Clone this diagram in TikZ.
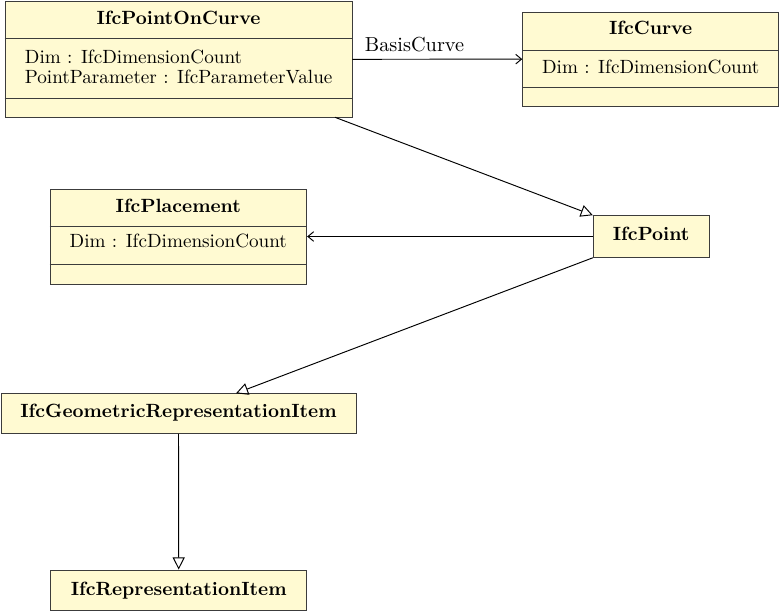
\documentclass[tikz,border=0pt]{standalone}
\usetikzlibrary{fit,arrows.meta}
\definecolor{clsfill}{RGB}{255,250,210}
\definecolor{clsdraw}{RGB}{60,60,60}
\begin{document}
\begin{tikzpicture}[x=0.522pt,y=-0.522pt,
  cls/.style={draw=clsdraw,fill=clsfill,line width=0.5pt,inner sep=0pt},
  sepline/.style={draw=clsdraw,line width=0.5pt},
  ttl/.style={anchor=base,font=\bfseries,inner sep=0pt},
  attr/.style={anchor=base west,inner sep=0pt},
  attrc/.style={anchor=base,inner sep=0pt},
  rolelbl/.style={anchor=base west,inner sep=0pt,font=\fontsize{10.6}{12}\selectfont},
  gen/.style={draw=black,line width=0.5pt,-{Triangle[open,length=6.3pt,width=6.3pt]}},
  assoc/.style={draw=black,line width=0.5pt,-{Straight Barb[length=3pt,width=5pt]}}]
\useasboundingbox (0,0) rectangle (780,612);
% IfcPointOnCurve
\node[cls,fit={(5,1.3)(352,117.3)}] (poc) {};
\draw[sepline] (poc.west |- 0,38.3) -- (poc.east |- 0,38.3);
\draw[sepline] (poc.west |- 0,98.3) -- (poc.east |- 0,98.3);
\node[ttl] (pocT) at (178.5,24.5) {IfcPointOnCurve};
\node[attr] (pocA1) at (24.5,63.3) {Dim : IfcDimensionCount};
\node[attr] (pocA2) at (24.5,83.3) {PointParameter : IfcParameterValue};
% IfcCurve
\node[cls,fit={(522.7,12.3)(778.7,106)}] (cur) {};
\draw[sepline] (cur.west |- 0,50) -- (cur.east |- 0,50);
\draw[sepline] (cur.west |- 0,87.7) -- (cur.east |- 0,87.7);
\node[ttl] (curT) at (650.7,35) {IfcCurve};
\node[attrc] (curA1) at (650.7,74) {Dim : IfcDimensionCount};
% IfcPlacement
\node[cls,fit={(50,189)(306.7,284)}] (pla) {};
\draw[sepline] (pla.west |- 0,226.7) -- (pla.east |- 0,226.7);
\draw[sepline] (pla.west |- 0,264.3) -- (pla.east |- 0,264.3);
\node[ttl] (plaT) at (178.3,212.3) {IfcPlacement};
\node[attrc] (plaA1) at (178.3,247.3) {Dim : IfcDimensionCount};
% IfcPoint
\node[cls,fit={(593.3,215.7)(709,257.3)}] (pt) {};
\node[ttl] (ptT) at (651.2,240.5) {IfcPoint};
% IfcGeometricRepresentationItem
\node[cls,fit={(1,393.3)(356,433.3)}] (geo) {};
\node[ttl] (geoT) at (178.5,417) {IfcGeometricRepresentationItem};
% IfcRepresentationItem
\node[cls,fit={(50.7,570)(306.7,610.7)}] (rep) {};
\node[ttl] (repT) at (178.7,595.5) {IfcRepresentationItem};
% connectors
\coordinate (pocOut) at (335,117.3);
\coordinate (geoIn) at (236,393.3);
\draw[assoc] (poc.east) -- (cur.west);
\node[rolelbl] (lbl) at (364.5,51.7) {BasisCurve};
\draw[gen] (pocOut) -- (pt.north west);
\draw[assoc] (pt.west) -- (pla.east);
\draw[gen] (pt.south west) -- (geoIn);
\draw[gen] (geo.south) -- (rep.north);
\end{tikzpicture}
\end{document}
